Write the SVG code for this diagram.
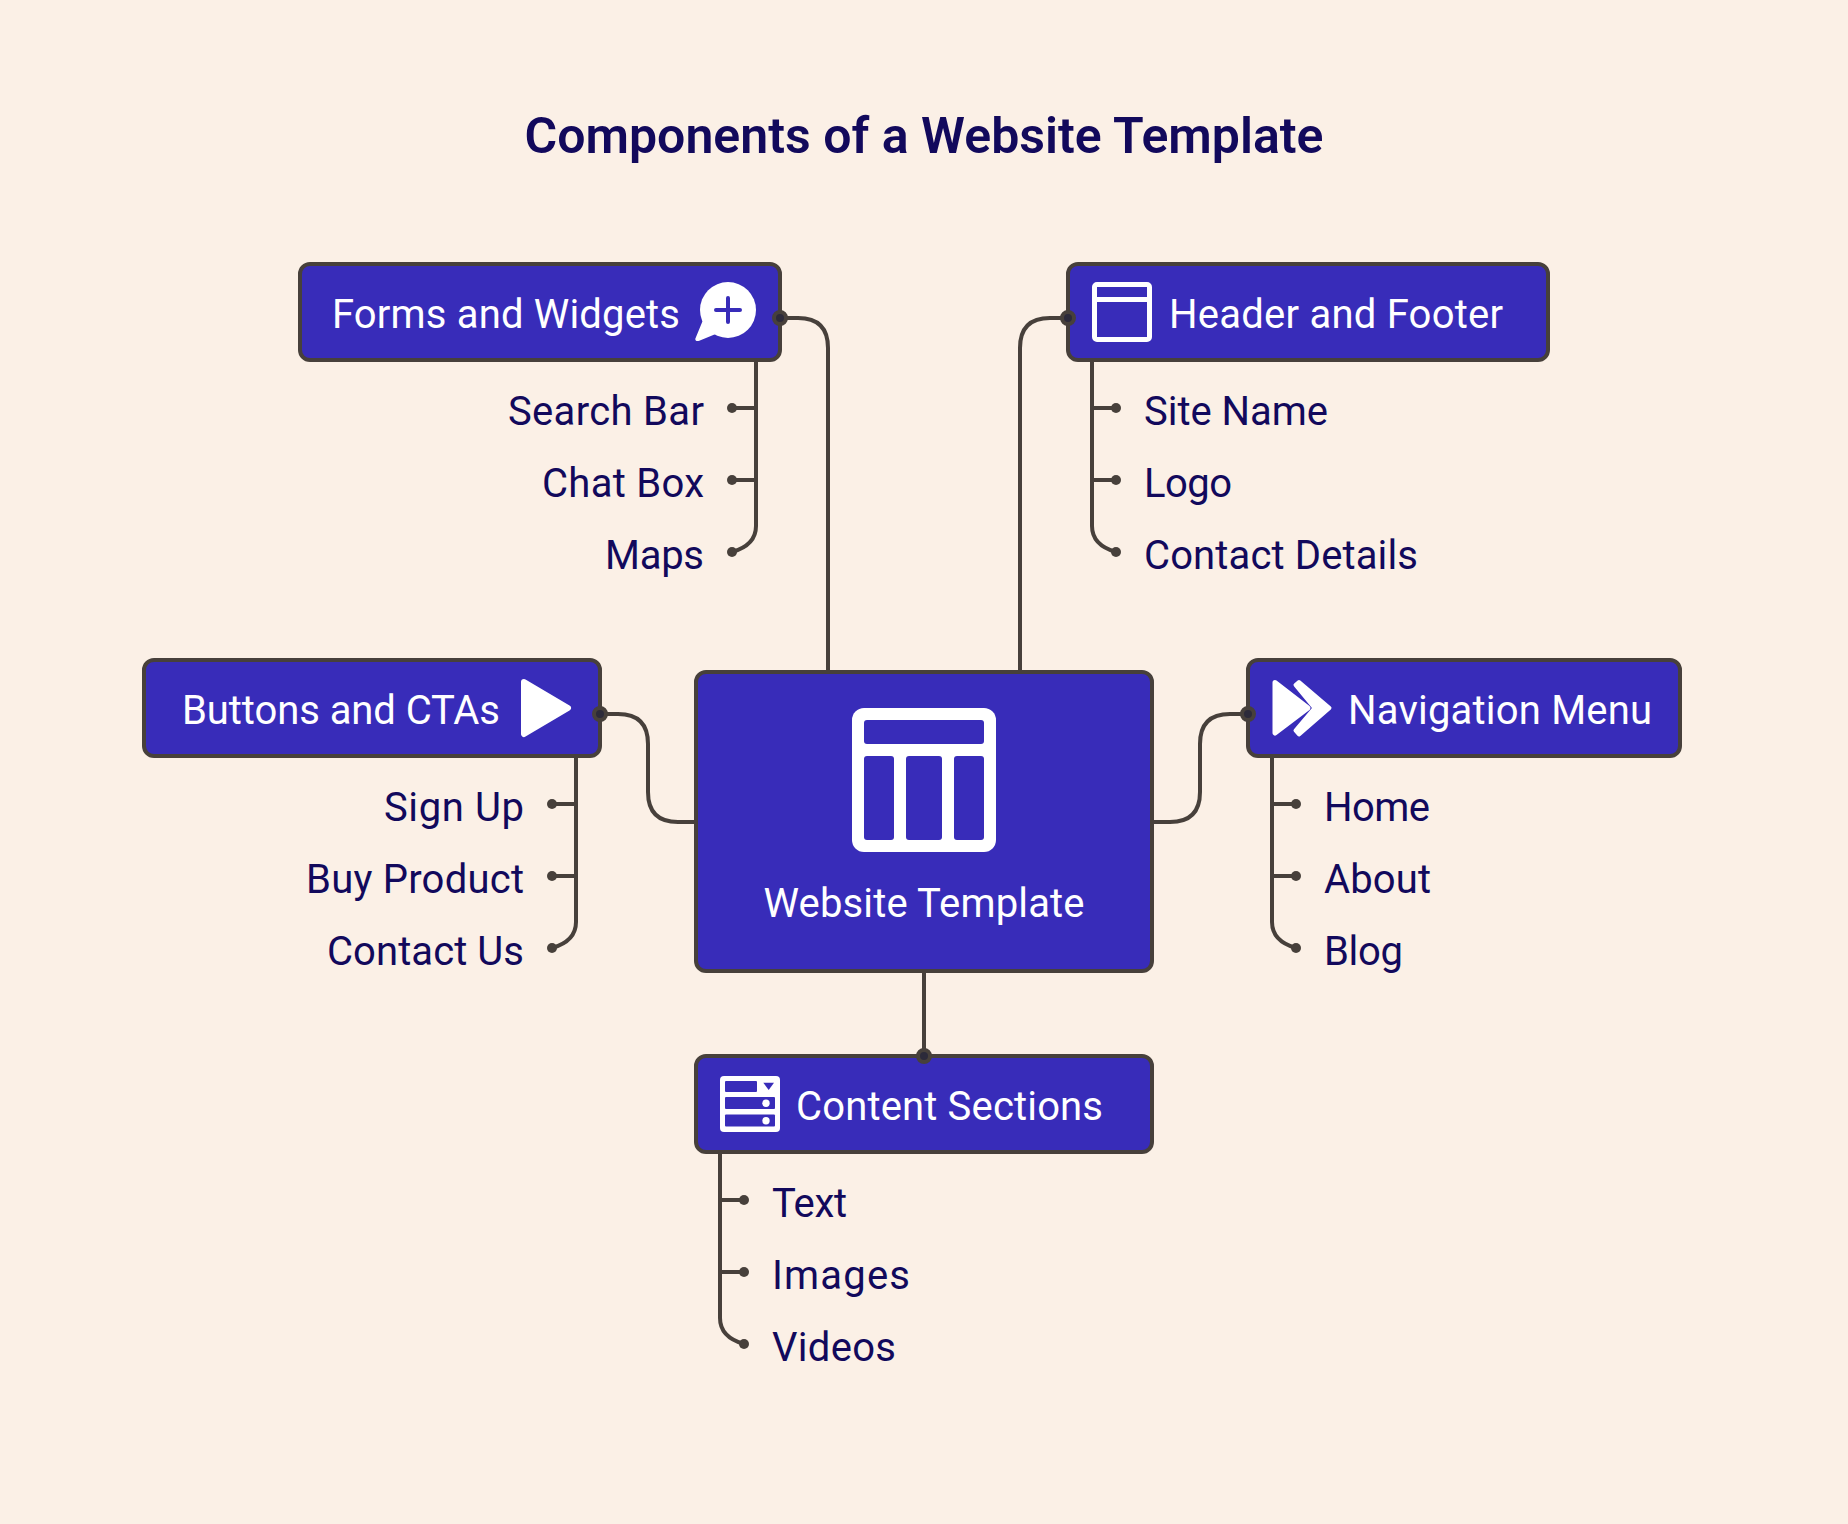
<svg xmlns="http://www.w3.org/2000/svg" width="1848" height="1524" viewBox="0 0 1848 1524">
<style>
text{font-family:"Roboto","Liberation Sans",sans-serif;font-size:40px;font-weight:400}
.box{fill:#382cb9;stroke:#47403b;stroke-width:4}
.nt{fill:#fff}
.lb{fill:#12095c}
.e{text-anchor:end}
.w{fill:#fff}
.h{fill:#382cb9}
.c{fill:none;stroke:#47403b;stroke-width:4}
.d{fill:#47403b}
.p{fill:#2c2a3a;stroke:#47403b;stroke-width:4}
</style>
<rect width="1848" height="1524" fill="#fbf0e6"/>
<text x="924" y="153" text-anchor="middle" textLength="799" style="font-size:50px;font-weight:600" fill="#12095c">Components of a Website Template</text>
<g id="node-forms">
<rect class="box" x="300" y="264" width="480" height="96" rx="10"/>
<text class="nt" x="332" y="328" textLength="348">Forms and Widgets</text>
<circle class="w" cx="728" cy="310" r="28"/>
<path class="w" d="M703 322L696 339Q696 341 699 340L716 333Z" stroke="#fff" stroke-width="1.5" stroke-linejoin="round"/>
<path d="M716 310H740M728 298V322" stroke="#382cb9" stroke-width="4" stroke-linecap="round" fill="none"/>
</g>
<g id="node-header">
<rect class="box" x="1068" y="264" width="480" height="96" rx="10"/>
<rect x="1094.500" y="284.500" width="55" height="55" rx="2.500" fill="none" stroke="#fff" stroke-width="5"/>
<rect class="w" x="1094" y="297" width="56" height="5"/>
<text class="nt" x="1169" y="328" textLength="334">Header and Footer</text>
</g>
<g id="node-buttons">
<rect class="box" x="144" y="660" width="456" height="96" rx="10"/>
<text class="nt" x="182" y="724" textLength="318">Buttons and CTAs</text>
<path class="w" d="M524 682L568 708L524 734Z" stroke="#fff" stroke-width="6" stroke-linejoin="round"/>
</g>
<g id="node-nav">
<rect class="box" x="1248" y="660" width="432" height="96" rx="10"/>
<path class="w" d="M1275 682.500L1308 708L1275 733Z" stroke="#fff" stroke-width="5" stroke-linejoin="round"/>
<path class="w" d="M1299 682L1329.500 708L1299 734.500L1295.500 730.500L1314.500 708L1295.500 685Z" stroke="#fff" stroke-width="4" stroke-linejoin="round"/>
<text class="nt" x="1348" y="724" textLength="304">Navigation Menu</text>
</g>
<g id="node-center">
<rect class="box" x="696" y="672" width="456" height="299" rx="10"/>
<rect class="w" x="852" y="708" width="144" height="144" rx="12"/>
<rect class="h" x="864" y="720" width="120" height="24" rx="3"/>
<rect class="h" x="864" y="756" width="30" height="84" rx="3"/>
<rect class="h" x="906" y="756" width="36" height="84" rx="3"/>
<rect class="h" x="954" y="756" width="30" height="84" rx="3"/>
<text class="nt" x="924" y="917" text-anchor="middle" textLength="321">Website Template</text>
</g>
<g id="node-content">
<rect class="box" x="696" y="1056" width="456" height="96" rx="10"/>
<rect class="w" x="720" y="1076" width="60" height="56" rx="4"/>
<rect class="h" x="725" y="1081" width="32" height="11" rx="1"/>
<path class="h" d="M763.300 1082.700H774L768.700 1090Z"/>
<rect class="h" x="725" y="1097" width="50" height="12" rx="1"/>
<rect class="h" x="725" y="1114.500" width="50" height="12" rx="1"/>
<circle class="w" cx="766" cy="1103.300" r="3.700"/>
<circle class="w" cx="766" cy="1120.700" r="3.700"/>
<text class="nt" x="796" y="1120" textLength="307">Content Sections</text>
</g>
<g id="connectors">
<path class="c" d="M828 672V348Q828 318 798 318H780"/>
<path class="c" d="M1020 672V348Q1020 318 1050 318H1068"/>
<path class="c" d="M696 822H678Q648 822 648 792V744Q648 714 618 714H600"/>
<path class="c" d="M1152 822H1170Q1200 822 1200 792V744Q1200 714 1230 714H1248"/>
<path class="c" d="M924 971V1056"/>
<path class="c" d="M756 360V526C756 540 746 548 732 552M756 408H732M756 480H732"/>
<path class="c" d="M1092 360V526C1092 540 1102 548 1116 552M1092 408H1116M1092 480H1116"/>
<path class="c" d="M576 756V922C576 936 566 944 552 948M576 804H552M576 876H552"/>
<path class="c" d="M1272 756V922C1272 936 1282 944 1296 948M1272 804H1296M1272 876H1296"/>
<path class="c" d="M720 1152V1318C720 1332 730 1340 744 1344M720 1200H744M720 1272H744"/>
<circle class="p" cx="780" cy="318" r="6"/>
<circle class="p" cx="1068" cy="318" r="6"/>
<circle class="p" cx="600" cy="714" r="6"/>
<circle class="p" cx="1248" cy="714" r="6"/>
<circle class="p" cx="924" cy="1056" r="6"/>
<g class="d">
<circle cx="732" cy="408" r="5"/><circle cx="732" cy="480" r="5"/><circle cx="732" cy="552" r="5"/>
<circle cx="1116" cy="408" r="5"/><circle cx="1116" cy="480" r="5"/><circle cx="1116" cy="552" r="5"/>
<circle cx="552" cy="804" r="5"/><circle cx="552" cy="876" r="5"/><circle cx="552" cy="948" r="5"/>
<circle cx="1296" cy="804" r="5"/><circle cx="1296" cy="876" r="5"/><circle cx="1296" cy="948" r="5"/>
<circle cx="744" cy="1200" r="5"/><circle cx="744" cy="1272" r="5"/><circle cx="744" cy="1344" r="5"/>
</g>
</g>
<g id="labels-forms">
<text class="lb e" x="704" y="425" textLength="196">Search Bar</text>
<text class="lb e" x="704" y="497" textLength="162">Chat Box</text>
<text class="lb e" x="704" y="569" textLength="99">Maps</text>
</g>
<g id="labels-header">
<text class="lb" x="1144" y="425" textLength="184">Site Name</text>
<text class="lb" x="1144" y="497" textLength="88">Logo</text>
<text class="lb" x="1144" y="569" textLength="274">Contact Details</text>
</g>
<g id="labels-buttons">
<text class="lb e" x="524" y="821" textLength="140">Sign Up</text>
<text class="lb e" x="524" y="893" textLength="218">Buy Product</text>
<text class="lb e" x="524" y="965" textLength="197">Contact Us</text>
</g>
<g id="labels-nav">
<text class="lb" x="1324" y="821" textLength="106">Home</text>
<text class="lb" x="1324" y="893" textLength="107">About</text>
<text class="lb" x="1324" y="965" textLength="79">Blog</text>
</g>
<g id="labels-content">
<text class="lb" x="772" y="1217" textLength="75">Text</text>
<text class="lb" x="772" y="1289" textLength="138">Images</text>
<text class="lb" x="772" y="1361" textLength="124">Videos</text>
</g>
</svg>
